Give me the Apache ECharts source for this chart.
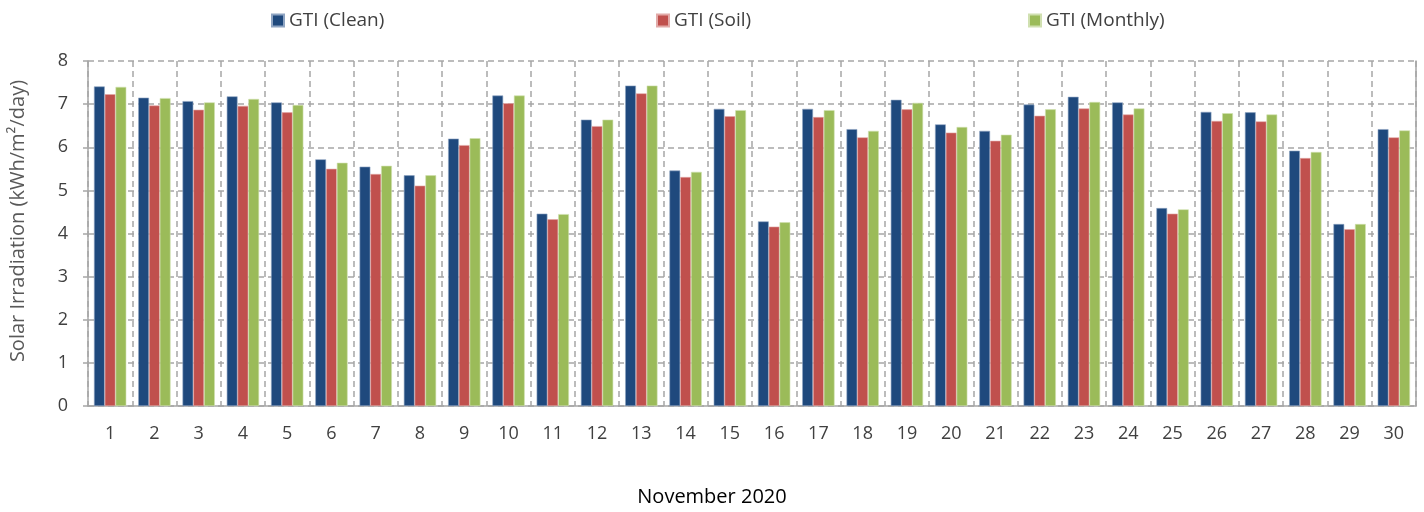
<!DOCTYPE html>
<html><head><meta charset="utf-8">
<script src="https://cdn.jsdelivr.net/npm/echarts@6/dist/echarts.min.js"></script>
<style>html,body{margin:0;padding:0;background:#fff}#c{width:1424px;height:512px}</style>
</head><body><div id="c"></div>
<script>
const days = ['1','2','3','4','5','6','7','8','9','10','11','12','13','14','15','16','17','18','19','20','21','22','23','24','25','26','27','28','29','30'];
const gtiClean = [7.41,7.15,7.07,7.18,7.04,5.72,5.55,5.35,6.20,7.20,4.46,6.64,7.43,5.46,6.89,4.28,6.89,6.42,7.10,6.53,6.38,6.99,7.17,7.04,4.59,6.82,6.81,5.92,4.22,6.42];
const gtiSoil  = [7.23,6.97,6.87,6.96,6.81,5.50,5.38,5.11,6.05,7.02,4.33,6.49,7.25,5.31,6.72,4.16,6.70,6.23,6.88,6.34,6.15,6.73,6.90,6.76,4.46,6.61,6.60,5.75,4.10,6.23];
const gtiMonthly = [7.40,7.14,7.04,7.12,6.98,5.64,5.57,5.35,6.21,7.20,4.45,6.64,7.43,5.43,6.86,4.26,6.86,6.38,7.03,6.47,6.29,6.88,7.05,6.90,4.56,6.79,6.76,5.89,4.22,6.39];
const seriesNames = ['GTI (Clean)','GTI (Soil)','GTI (Monthly)'];
const xTitle = 'November 2020';
const yTitle = 'Solar Irradiation (kWh/m\u00B2/day)';
const colors = ['#1F497D','#C0504D','#9BBB59'];
const FONT = 'Open Sans';
const chart = echarts.init(document.getElementById('c'));
const legendBase = {top: 6, itemWidth: 12, itemHeight: 12, itemGap: 6, icon: 'rect',
  textStyle: {fontFamily: FONT, fontSize: 19, color: '#404040'}};
const gridLine = {color: '#A6A6A6', type: [6, 4], width: 1.5};
chart.setOption({
  animation: false,
  color: colors,
  legend: [
    Object.assign({left: 266, data: [seriesNames[0]]}, legendBase),
    Object.assign({left: 651, data: [seriesNames[1]]}, legendBase),
    Object.assign({left: 1023, data: [seriesNames[2]]}, legendBase)
  ],
  graphic: [
    {type: 'text', left: 'center', top: 487,
     style: {text: xTitle, fontFamily: FONT, fontSize: 20, fill: '#000'}},
    {type: 'text', x: 18, y: 221, rotation: Math.PI / 2,
     style: {text: yTitle, fontFamily: FONT, fontSize: 20, fill: '#595959', align: 'center', verticalAlign: 'middle'}}
  ],
  grid: {left: 88, right: 8, top: 61, bottom: 106, containLabel: false},
  xAxis: {
    type: 'category', data: days,
    axisLine: {lineStyle: {color: '#A6A6A6', width: 1.5}},
    axisTick: {show: false},
    axisLabel: {fontFamily: FONT, fontSize: 18, color: '#404040', margin: 19},
    splitLine: {show: true, lineStyle: gridLine}
  },
  yAxis: [{
    type: 'value', min: 0, max: 8, interval: 1,
    axisLine: {show: true, lineStyle: {color: '#A6A6A6', width: 1.5}},
    axisTick: {show: true, length: 5, lineStyle: {color: '#A6A6A6', width: 1.5}},
    axisLabel: {fontFamily: FONT, fontSize: 18, color: '#404040', margin: 20},
    splitLine: {show: true, lineStyle: gridLine}
  }, {
    type: 'value', min: 0, max: 8, position: 'right',
    axisLine: {show: true, lineStyle: {color: '#A6A6A6', width: 1.5}},
    axisTick: {show: false}, axisLabel: {show: false}, splitLine: {show: false}
  }],
  series: [
    {name: seriesNames[0], type: 'bar', data: gtiClean, barGap: '0%', barCategoryGap: '27%',
     itemStyle: {color: colors[0], borderColor: '#8EA4C2', borderWidth: 0.6}},
    {name: seriesNames[1], type: 'bar', data: gtiSoil,
     itemStyle: {color: colors[1], borderColor: '#E2AAA8', borderWidth: 0.6}},
    {name: seriesNames[2], type: 'bar', data: gtiMonthly,
     itemStyle: {color: colors[2], borderColor: '#D0E0B0', borderWidth: 0.6}}
  ]
});
</script></body></html>
